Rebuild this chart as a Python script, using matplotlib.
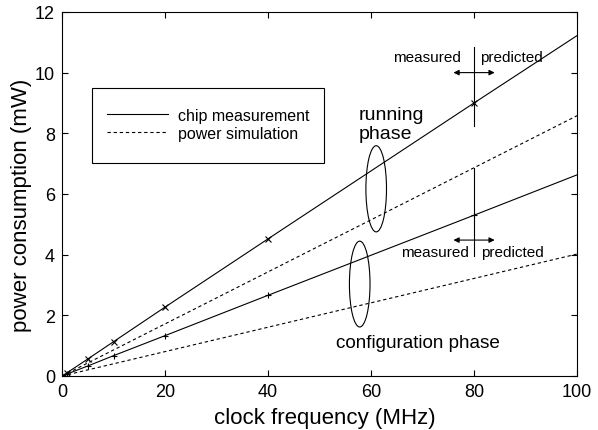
import matplotlib.pyplot as plt
from matplotlib.patches import Ellipse, Rectangle

plt.rcParams['font.family'] = ['Liberation Sans', 'DejaVu Sans']

# data
freq = [0, 1, 5, 10, 20, 40, 80, 100]
run_meas = [0, 0.11, 0.56, 1.13, 2.27, 4.52, 9.0, 11.22]
conf_meas = [0, 0.066, 0.33, 0.67, 1.33, 2.66, 5.3, 6.63]
sim_freq = [0, 100]
run_sim = [0, 8.58]
conf_sim = [0, 4.02]

fig = plt.figure(figsize=(5.98, 4.31), dpi=100)
ax = fig.add_axes([0.1037, 0.1253, 0.8613, 0.8447])

ax.plot(freq, run_meas, color='black', lw=0.8)
ax.plot(freq[1:7], run_meas[1:7], ls='none', color='black', marker='x', ms=4, mew=0.8)
ax.plot(freq, conf_meas, color='black', lw=0.8)
ax.plot(freq[1:7], conf_meas[1:7], ls='none', color='black', marker='+', ms=5, mew=0.8)
ax.plot(sim_freq, run_sim, color='black', lw=0.8, ls=(0, (3, 2.5)))
ax.plot(sim_freq, conf_sim, color='black', lw=0.8, ls=(0, (3, 2.5)))

# measured / predicted markers
ax.plot([80, 80], [8.25, 10.85], color='black', lw=0.8)
ax.plot([80, 80], [3.95, 6.85], color='black', lw=0.8)
for y in [10.0, 4.48]:
    ax.annotate('', xy=(76.0, y), xytext=(84.0, y),
                arrowprops=dict(arrowstyle='<|-|>', color='black', lw=0.8,
                                mutation_scale=8, shrinkA=0, shrinkB=0))
ax.text(77.4, 10.5, 'measured', ha='right', va='center', fontsize=11)
ax.text(81.2, 10.5, 'predicted', ha='left', va='center', fontsize=11)
ax.text(79.0, 4.1, 'measured', ha='right', va='center', fontsize=11)
ax.text(81.4, 4.1, 'predicted', ha='left', va='center', fontsize=11)

ax.add_patch(Ellipse((61.0, 6.17), 4.0, 2.84, fill=False, color='black', lw=0.8))
ax.add_patch(Ellipse((57.8, 3.03), 4.0, 2.83, fill=False, color='black', lw=0.8))
ax.text(57.6, 8.32, 'running\nphase', ha='left', va='center', fontsize=14, linespacing=1.15)
ax.text(53.2, 1.12, 'configuration phase', ha='left', va='center', fontsize=13.6)

ax.set_xlim(0, 100)
ax.set_ylim(0, 12)
ax.set_xticks([0, 20, 40, 60, 80, 100])
ax.set_yticks([0, 2, 4, 6, 8, 10, 12])
ax.tick_params(direction='in', top=True, right=True, labelsize=13, length=4, pad=5)
ax.set_xlabel('clock frequency (MHz)', fontsize=16)
ax.set_ylabel('power consumption (mW)', fontsize=16)
ax.xaxis.set_label_coords(0.511, -0.085)
ax.yaxis.set_label_coords(-0.058, 0.4725)

# legend with a hand-placed frame
ax.add_patch(Rectangle((0.058, 0.585), 0.451, 0.206, transform=ax.transAxes,
                       fill=False, edgecolor='black', lw=0.8))
h1, = ax.plot([], [], color='black', lw=0.8)
h2, = ax.plot([], [], color='black', lw=0.8, ls=(0, (3, 2.5)))
ax.legend([h1, h2], ['chip measurement', 'power simulation'], loc='upper left',
          bbox_to_anchor=(0.087, 0.737), fontsize=11.5, frameon=False, borderpad=0,
          borderaxespad=0, handlelength=3.8, handletextpad=0.63, labelspacing=0.2)

fig.savefig('out.png', dpi=100)
